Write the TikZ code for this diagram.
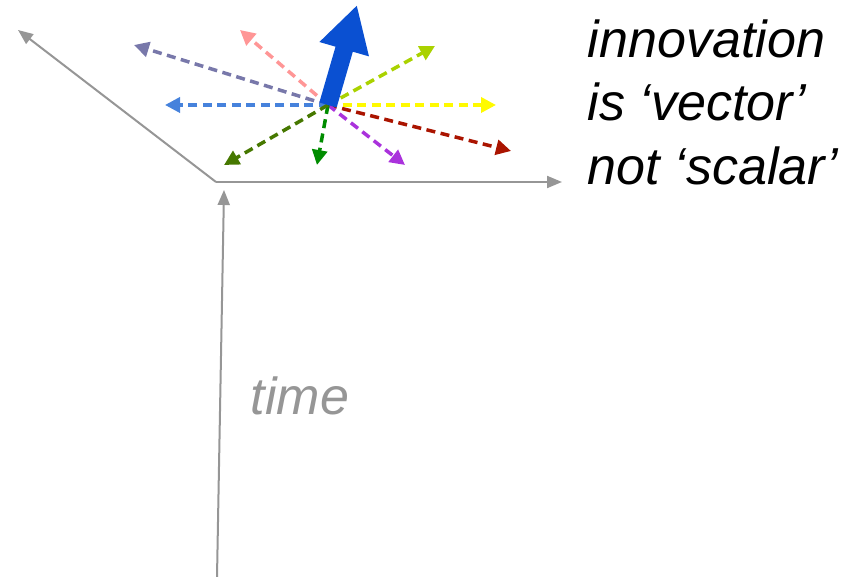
\documentclass[tikz,border=0pt]{standalone}
\usepackage{fontspec}
\setsansfont{Liberation Sans}
\usepackage{xcolor}
\usetikzlibrary{positioning, arrows.meta}
\definecolor{axisgray}{RGB}{150, 150, 150}
\definecolor{bigblue}{RGB}{10, 80, 210}
\definecolor{slatepurple}{RGB}{120, 120, 170}
\definecolor{softpink}{RGB}{255, 150, 150}
\definecolor{limegreen}{RGB}{170, 210, 0}
\definecolor{skyblue}{RGB}{70, 130, 220}
\definecolor{brightyellow}{RGB}{255, 250, 0}
\definecolor{darkred}{RGB}{170, 20, 0}
\definecolor{violet}{RGB}{170, 50, 220}
\definecolor{leafgreen}{RGB}{0, 140, 0}
\definecolor{olivegreen}{RGB}{70, 120, 0}

\begin{document}
\begin{tikzpicture}[
    x=0.01cm, y=-0.01cm,
    axis/.style={
        draw=axisgray,
        line width=0.02cm,
        -{Triangle[length=0.15cm, width=0.12cm]}
    },
    dasharrow/.style={
        line width=0.035cm,
        dash pattern=on 0.09cm off 0.055cm,
        -{Triangle[length=0.15cm, width=0.15cm]}
    },
    bigarrow/.style={
        draw=bigblue,
        line width=0.18cm,
        -{Triangle[length=0.46cm, width=0.48cm]}
    },
    caption/.style={
        align=left,
        inner sep=0pt,
        font=\fontsize{14.8}{18}\selectfont\sffamily\itshape
    }
]
\useasboundingbox (0,0) rectangle (861,577);

% Nodes
\coordinate (origin) at (216,182);
\coordinate (xend) at (562,182);
\coordinate (yend) at (18,30);
\coordinate (tbottom) at (217,577);
\coordinate (tend) at (224,190);

\coordinate (hub) at (328,105);
\coordinate (main) at (357,5);
\coordinate (slate) at (134,45);
\coordinate (pink) at (240,30);
\coordinate (lime) at (435,46);
\coordinate (sky) at (165,105);
\coordinate (yellow) at (496,105);
\coordinate (red) at (511,151);
\coordinate (violet) at (405,165);
\coordinate (green) at (317,165);
\coordinate (olive) at (224,165);

\node (time) [caption, text=axisgray, anchor=base west] at (250,415) {time};
\node (claim) [caption, anchor=north west] at (587,19) {innovation\\is `vector'\\not `scalar'};

% Connections
\draw [axis] (origin) -- (xend);
\draw [axis] (origin) -- (yend);
\draw [axis] (tbottom) -- (tend);

\draw [dasharrow, slatepurple] (hub) -- (slate);
\draw [dasharrow, softpink] (hub) -- (pink);
\draw [dasharrow, limegreen] (hub) -- (lime);
\draw [dasharrow, skyblue] (hub) -- (sky);
\draw [dasharrow, brightyellow] (hub) -- (yellow);
\draw [dasharrow, darkred] (hub) -- (red);
\draw [dasharrow, violet] (hub) -- (violet);
\draw [dasharrow, leafgreen] (hub) -- (green);
\draw [dasharrow, olivegreen] (hub) -- (olive);

\draw [bigarrow] (hub) -- (main);

\end{tikzpicture}
\end{document}
